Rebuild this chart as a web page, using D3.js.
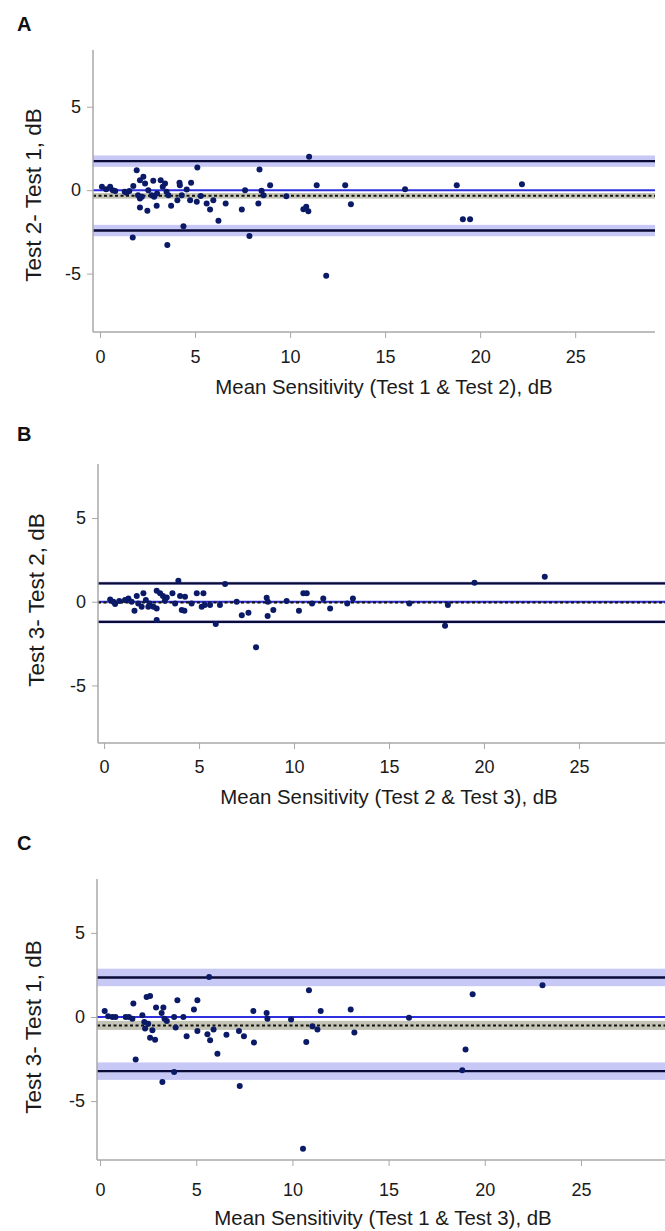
<!DOCTYPE html>
<html>
<head>
<meta charset="utf-8">
<script src="https://cdn.jsdelivr.net/npm/d3@7"></script>
<style>
html,body{margin:0;padding:0;background:#fff;}
svg{display:block;font-family:"Liberation Sans",Arial,sans-serif;}
</style>
</head>
<body>
<svg id="chart" width="665" height="1231"></svg>
<script>
// ---------------- DATA ----------------
const panelLetters = ["A", "B", "C"];
const xTitles = [
  "Mean Sensitivity (Test 1 & Test 2), dB",
  "Mean Sensitivity (Test 2 & Test 3), dB",
  "Mean Sensitivity (Test 1 & Test 3), dB"
];
const yTitles = ["Test 2- Test 1, dB", "Test 3- Test 2, dB", "Test 3- Test 1, dB"];
const xTickValues = [0, 5, 10, 15, 20, 25];
const yTickValues = [-5, 0, 5];

// Bland-Altman statistics
const meanDiff   = [-0.34, -0.05, -0.5];
const meanHalfCI = [0.17, 0.04, 0.27];
const upperLoA   = [1.74, 1.1, 2.35];
const lowerLoA   = [-2.42, -1.2, -3.22];
const loaHalfCI  = [0.34, 0.1, 0.52];

const dataA = [
  [0.1,0.2],[0.32,0.05],[0.53,0.2],[0.67,0],[0.8,-0.05],[1.3,-0.1],[1.4,-0.15],[1.54,-0.05],
  [1.75,0.25],[1.72,-2.83],[1.93,1.2],[2.0,-0.3],[2.1,0.6],[2.1,-0.5],[2.1,-1.04],[2.2,-0.4],
  [2.28,0.8],[2.37,0.4],[2.49,-1.24],[2.54,0],[2.72,-0.3],[2.8,0.56],[2.85,-0.4],[2.98,-0.94],
  [3.0,-0.2],[3.19,0.6],[3.3,0.2],[3.42,0.4],[3.5,-0.1],[3.54,-3.29],[3.6,-0.3],[3.74,-0.94],
  [4.07,-0.6],[4.18,0.44],[4.2,0.3],[4.3,-0.3],[4.39,-2.16],[4.56,0.04],[4.79,0.44],[4.74,-0.6],
  [5.09,-0.7],[5.12,1.36],[5.3,-0.35],[5.61,-0.8],[5.79,-1.16],[5.96,-0.6],[6.23,-1.84],[6.61,-0.8],
  [7.46,-1.16],[7.63,0],[7.86,-2.75],[8.33,-0.8],[8.39,1.24],[8.5,-0.04],[8.6,-0.3],[8.95,0.3],
  [9.8,-0.36],[10.7,-1.14],[10.85,-1.0],[10.96,-1.26],[11.0,2.0],[11.4,0.3],[11.9,-5.13],
  [12.9,0.3],[13.2,-0.84],[16.05,0.06],[18.77,0.3],[19.09,-1.74],[19.47,-1.74],[22.2,0.36]
];
const dataB = [
  [0.32,0.14],[0.49,0],[0.58,-0.14],[0.8,0.05],[1.1,0.1],[1.28,0.2],[1.45,0],[1.6,-0.54],
  [1.72,0.34],[1.8,-0.1],[2.07,0.5],[1.98,-0.3],[2.2,0.1],[2.33,-0.3],[2.4,-0.1],[2.6,-0.3],
  [2.77,-0.4],[2.77,0.66],[2.77,-1.09],[2.95,0.5],[3.1,0.34],[3.2,0.06],[3.3,0.26],[3.6,0.5],
  [3.74,-0.1],[3.91,1.26],[4.0,0.34],[4.09,-0.5],[4.23,-0.54],[4.26,0.3],[4.61,-0.1],[4.88,0.5],
  [5.23,0.5],[5.14,-0.3],[5.3,-0.2],[5.58,-0.2],[5.88,-1.33],[6.1,-0.2],[6.37,1.06],[6.98,0],
  [7.25,-0.8],[7.6,-0.66],[8.0,-2.72],[8.56,0.24],[8.62,0],[8.61,-0.85],[8.91,-0.5],[9.61,0.04],
  [10.26,-0.54],[10.49,0.5],[10.67,0.5],[10.95,-0.1],[11.54,0.2],[11.9,-0.4],[12.8,-0.1],
  [13.1,0.2],[16.07,-0.1],[17.95,-1.43],[18.1,-0.2],[19.5,1.13],[23.2,1.5]
];
const dataC = [
  [0.24,0.36],[0.42,0.04],[0.64,0],[0.8,0],[1.33,0],[1.5,0],[1.68,-0.1],[1.73,0.8],[1.85,-2.52],
  [2.2,0.1],[2.3,-0.3],[2.42,1.19],[2.6,1.25],[2.34,-0.69],[2.5,-0.4],[2.6,-1.23],[2.72,-0.79],
  [2.86,-1.35],[2.91,0.56],[3.2,0.24],[3.29,0.56],[3.35,-0.1],[3.47,-0.24],[3.24,-3.87],[3.85,0],
  [3.93,-0.63],[4.02,1.0],[3.85,-3.27],[4.33,0],[4.5,-1.15],[4.88,0.44],[5.06,1.0],[5.06,-0.83],
  [5.58,-1.03],[5.67,2.38],[5.72,-1.39],[5.9,-0.75],[6.1,-2.18],[6.57,-1.05],[7.22,-0.83],
  [7.26,-4.1],[7.48,-1.15],[7.97,0.36],[8.0,-1.52],[8.66,0.24],[8.7,-0.1],[9.93,-0.15],
  [10.55,-7.83],[10.72,-1.49],[10.86,1.59],[11.04,-0.55],[11.3,-0.75],[11.47,0.36],
  [13.03,0.44],[13.22,-0.93],[16.06,-0.04],[18.83,-3.17],[19.0,-1.94],[19.37,1.35],[23.0,1.89]
];
const panelData = [dataA, dataB, dataC];

// ---------------- LAYOUT ----------------
const layout = [
  {letterY: 24, x0: 93, x1: 655, xd: [-0.37, 29.2], yTop: 50, yBot: 332, yd: [-8.5, 8.4], yTitleX: 33, yTitleY: 195, tickY: 357, titleX: 384, titleY: 387},
  {letterY: 434, x0: 98, x1: 665, xd: [-0.32, 29.53], yTop: 464, yBot: 743, yd: [-8.44, 8.23], yTitleX: 36, yTitleY: 600, tickY: 767, titleX: 389, titleY: 797},
  {letterY: 843, x0: 97, x1: 665, xd: [-0.16, 29.37], yTop: 879, yBot: 1160, yd: [-8.5, 8.2], yTitleX: 33, yTitleY: 1027, tickY: 1190, titleX: 383, titleY: 1218}
];

const svg = d3.select("#chart");
const axisCol = "#a8a8a8";
const txtCol = "#1a1a1a";

panelLetters.forEach((letter, i) => {
  const L = layout[i];
  const x = d3.scaleLinear().domain(L.xd).range([L.x0, L.x1]);
  const y = d3.scaleLinear().domain(L.yd).range([L.yBot, L.yTop]);
  const g = svg.append("g");

  // panel letter
  g.append("text").attr("x", 17).attr("y", L.letterY).attr("dy", "0.36em")
    .attr("font-size", 20).attr("font-weight", "bold").attr("fill", "#111").text(letter);

  const plot = g.append("g");
  const xr = [L.x0, L.x1];

  // LoA confidence bands
  [upperLoA[i], lowerLoA[i]].forEach(v => {
    plot.append("rect").attr("x", xr[0]).attr("width", xr[1] - xr[0])
      .attr("y", y(v + loaHalfCI[i])).attr("height", y(v - loaHalfCI[i]) - y(v + loaHalfCI[i]))
      .attr("fill", "#c8c8f6");
  });
  // mean band
  plot.append("rect").attr("x", xr[0]).attr("width", xr[1] - xr[0])
    .attr("y", y(meanDiff[i] + meanHalfCI[i])).attr("height", y(meanDiff[i] - meanHalfCI[i]) - y(meanDiff[i] + meanHalfCI[i]))
    .attr("fill", "#c4c4b6");
  // zero line
  plot.append("line").attr("x1", xr[0]).attr("x2", xr[1]).attr("y1", y(0)).attr("y2", y(0))
    .attr("stroke", "#2f2fe0").attr("stroke-width", 2);
  // LoA lines
  [upperLoA[i], lowerLoA[i]].forEach(v => {
    plot.append("line").attr("x1", xr[0]).attr("x2", xr[1]).attr("y1", y(v)).attr("y2", y(v))
      .attr("stroke", "#0a0a36").attr("stroke-width", 2.4);
  });
  // mean dashed
  plot.append("line").attr("x1", xr[0]).attr("x2", xr[1]).attr("y1", y(meanDiff[i])).attr("y2", y(meanDiff[i]))
    .attr("stroke", "#111").attr("stroke-width", 2).attr("stroke-dasharray", "3,2.5");

  // points
  plot.selectAll("circle").data(panelData[i]).join("circle")
    .attr("cx", d => x(d[0])).attr("cy", d => y(d[1])).attr("r", 3)
    .attr("fill", "#0b1a66");

  // axes
  const fmt = d => String(d);
  const xAxis = d3.axisBottom(x).tickValues(xTickValues).tickSize(6).tickPadding(10).tickFormat(fmt);
  const gx = g.append("g").attr("transform", `translate(0,${L.yBot})`).call(xAxis);
  gx.select(".domain").attr("stroke", axisCol).attr("stroke-width", 1.5).attr("d", `M${L.x0},0H${L.x1}`);
  gx.selectAll(".tick line").attr("stroke", axisCol);
  gx.selectAll(".tick text").attr("font-size", 18).attr("fill", txtCol)
    .attr("font-family", "Liberation Sans, Arial, sans-serif").attr("y", null).attr("dy", null)
    .attr("transform", `translate(0,${L.tickY - L.yBot})`).attr("dominant-baseline", "central");

  const yAxis = d3.axisLeft(y).tickValues(yTickValues).tickSize(6).tickPadding(6).tickFormat(fmt);
  const gy = g.append("g").attr("transform", `translate(${L.x0},0)`).call(yAxis);
  gy.select(".domain").attr("stroke", axisCol).attr("stroke-width", 1.5).attr("d", `M0,${L.yTop}V${L.yBot}`);
  gy.selectAll(".tick line").attr("stroke", axisCol);
  gy.selectAll(".tick text").attr("font-size", 18).attr("fill", txtCol)
    .attr("font-family", "Liberation Sans, Arial, sans-serif");

  // titles
  g.append("text").attr("x", L.titleX).attr("y", L.titleY).attr("dy", "0.36em")
    .attr("text-anchor", "middle").attr("font-size", 20.4).attr("fill", txtCol).text(xTitles[i]);
  g.append("text").attr("transform", `translate(${L.yTitleX},${L.yTitleY}) rotate(-90)`).attr("dy", "0.36em")
    .attr("text-anchor", "middle").attr("font-size", 22.5).attr("fill", txtCol).text(yTitles[i]);
});
</script>
</body>
</html>
